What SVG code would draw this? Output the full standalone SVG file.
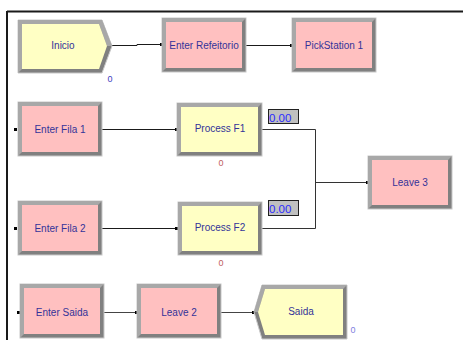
<svg xmlns="http://www.w3.org/2000/svg" width="463" height="340" viewBox="0 0 463 340">
<defs>
<style>
.frame{fill:#808080;stroke:#c8c8c8;stroke-width:1}
.hl{fill:#a8a8a8}
.pink{fill:#ffc0c0}
.yel{fill:#ffffc4}
.lbl{font-family:"Liberation Sans",Arial,sans-serif;font-size:10px;fill:#333399;text-anchor:middle}
.cnt{font-family:"Liberation Sans",Arial,sans-serif;font-size:9px;text-anchor:middle}
.val{font-family:"Liberation Sans",Arial,sans-serif;font-size:11.5px;fill:#2a2aff}
.vbox{fill:#c0c0c0;stroke:#202020;stroke-width:1}
.ln{fill:none;stroke:#1a1a1a;stroke-width:1}
.sq{fill:#000}
</style>
</defs>
<rect width="463" height="340" fill="#ffffff"/>
<!-- outer frame lines -->
<line x1="7" y1="11.5" x2="463" y2="11.5" stroke="#1a1a1a" stroke-width="2"/>
<line x1="7" y1="11" x2="7" y2="340" stroke="#1a1a1a" stroke-width="2"/>

<g id="connectors">
<polyline class="ln" points="112,45.5 137,45.5 137,44.5 162,44.5"/>
<rect class="sq" x="160" y="43" width="3" height="3"/>
<line class="ln" x1="246" y1="45.5" x2="292" y2="45.5"/>
<rect class="sq" x="290" y="44" width="3" height="3"/>
<rect class="sq" x="14" y="128" width="3" height="3"/>
<line class="ln" x1="102" y1="129.5" x2="177" y2="129.5"/>
<rect class="sq" x="175" y="128" width="3" height="3"/>
<rect class="sq" x="14" y="227" width="3" height="3"/>
<line class="ln" x1="102" y1="228.5" x2="177" y2="228.5"/>
<rect class="sq" x="175" y="227" width="3" height="3"/>
<polyline fill="none" stroke="#333" stroke-width="1" points="262,129.5 315.5,129.5 315.5,228.5 262,228.5"/>
<line fill="none" stroke="#333" stroke-width="1" x1="315.5" y1="182.5" x2="368" y2="182.5"/>
<rect class="sq" x="366" y="181" width="3" height="3"/>
<rect class="sq" x="17" y="311" width="3" height="3"/>
<line stroke="#444" stroke-width="1" x1="104" y1="312.5" x2="137" y2="312.5"/>
<rect class="sq" x="135" y="311" width="3" height="3"/>
<line stroke="#444" stroke-width="1" x1="221" y1="312.5" x2="254" y2="312.5"/>
<rect class="sq" x="252" y="311" width="3" height="3"/>
</g>

<g id="inicio">
<polygon class="frame" points="18,20 102,20 112,46 102,73 18,73"/>
<polygon class="hl" points="18,20 102,20 112,46 107,46 99,24 22,24 22,69 18,73"/>
<polygon class="yel" points="22,24 99,24 107,46 99,69 22,69"/>
<text class="lbl" x="63" y="49">Inicio</text>
<text class="cnt" x="110" y="82" fill="#4040c0">0</text>
</g>

<g id="enter-refeitorio">
<rect class="frame" x="162" y="18" width="84" height="54"/>
<polygon class="hl" points="162,18 246,18 242,22 166,22 166,68 162,72"/>
<rect class="pink" x="166" y="22" width="76" height="46"/>
<text class="lbl" x="204" y="48.5">Enter Refeitorio</text>
</g>

<g id="pickstation-1">
<rect class="frame" x="292" y="18" width="84" height="54"/>
<polygon class="hl" points="292,18 376,18 372,22 296,22 296,68 292,72"/>
<rect class="pink" x="296" y="22" width="76" height="46"/>
<text class="lbl" x="334" y="48.5">PickStation 1</text>
</g>

<g id="enter-fila-1">
<rect class="frame" x="18" y="102" width="84" height="54"/>
<polygon class="hl" points="18,102 102,102 98,106 22,106 22,152 18,156"/>
<rect class="pink" x="22" y="106" width="76" height="46"/>
<text class="lbl" x="60" y="132.5">Enter Fila 1</text>
</g>

<g id="process-f1">
<rect class="frame" x="177" y="103" width="85" height="53"/>
<polygon class="hl" points="177,103 262,103 258,107 181,107 181,152 177,156"/>
<rect class="yel" x="181" y="107" width="77" height="45"/>
<text class="lbl" x="220" y="131.5">Process F1</text>
<text class="cnt" x="221" y="166" fill="#c06060">0</text>
<rect class="vbox" x="268.5" y="109.5" width="30" height="14"/>
<text class="val" x="269" y="121.5">0.00</text>
</g>

<g id="enter-fila-2">
<rect class="frame" x="18" y="201" width="84" height="54"/>
<polygon class="hl" points="18,201 102,201 98,205 22,205 22,251 18,255"/>
<rect class="pink" x="22" y="205" width="76" height="46"/>
<text class="lbl" x="60" y="231.5">Enter Fila 2</text>
</g>

<g id="process-f2">
<rect class="frame" x="178" y="202" width="84" height="53"/>
<polygon class="hl" points="178,202 262,202 258,206 182,206 182,251 178,255"/>
<rect class="yel" x="182" y="206" width="76" height="45"/>
<text class="lbl" x="220" y="230.5">Process F2</text>
<text class="cnt" x="221" y="266" fill="#c06060">0</text>
<rect class="vbox" x="268.5" y="200.5" width="30" height="15"/>
<text class="val" x="269" y="212.5">0.00</text>
</g>

<g id="leave-3">
<rect class="frame" x="368" y="156" width="84" height="53"/>
<polygon class="hl" points="368,156 452,156 448,160 372,160 372,205 368,209"/>
<rect class="pink" x="372" y="160" width="76" height="45"/>
<text class="lbl" x="410" y="185.5">Leave 3</text>
</g>

<g id="enter-saida">
<rect class="frame" x="20" y="284" width="84" height="54"/>
<polygon class="hl" points="20,284 104,284 100,288 24,288 24,334 20,338"/>
<rect class="pink" x="24" y="288" width="76" height="46"/>
<text class="lbl" x="62" y="315.5">Enter Saida</text>
</g>

<g id="leave-2">
<rect class="frame" x="137" y="284" width="84" height="54"/>
<polygon class="hl" points="137,284 221,284 217,288 141,288 141,334 137,338"/>
<rect class="pink" x="141" y="288" width="76" height="46"/>
<text class="lbl" x="179" y="315.5">Leave 2</text>
</g>

<g id="saida">
<polygon class="frame" points="262,285 347,285 347,339 262,339 254,312"/>
<polygon class="hl" points="262,285 347,285 343,289 265,289 258,312 254,312"/>
<polygon class="yel" points="265,289 343,289 343,335 265,335 258,312"/>
<text class="lbl" x="301" y="314.5">Saida</text>
<text class="cnt" x="353" y="333" fill="#8080e0">0</text>
</g>
</svg>
